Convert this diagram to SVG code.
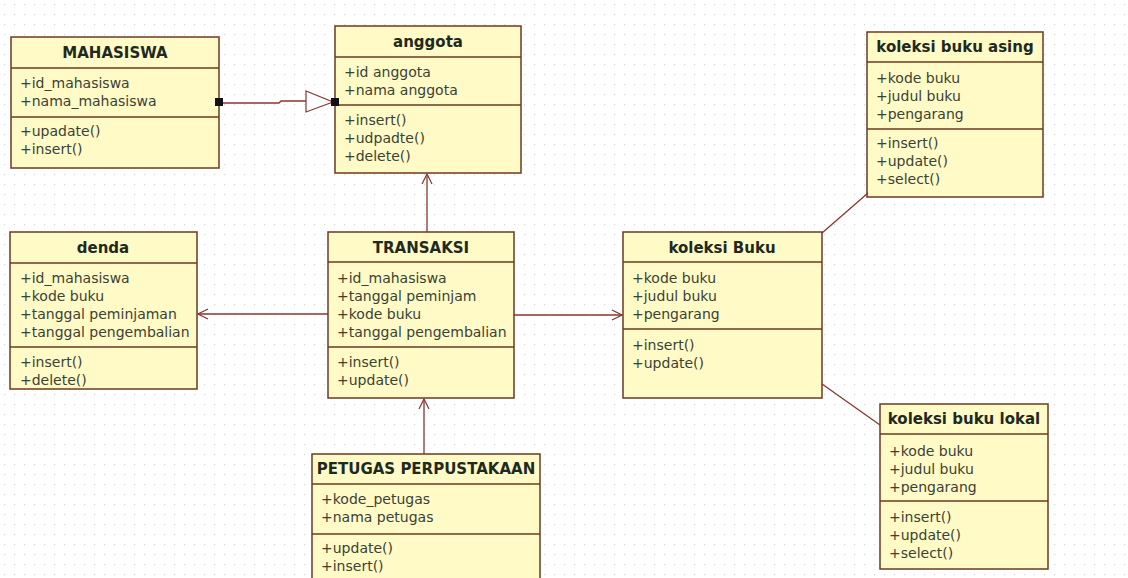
<svg xmlns="http://www.w3.org/2000/svg" width="1128" height="578" viewBox="0 0 1128 578">
<style>
.box{fill:#FFFAC6;stroke:#6b3a22;stroke-width:1.5}
.sep{stroke:#6b3a22;stroke-width:1.5}
.t{font-family:"DejaVu Sans",Verdana,sans-serif;font-size:15px;font-weight:bold;fill:#1e2a1e;text-anchor:middle}
.a{font-family:"DejaVu Sans",Verdana,sans-serif;font-size:14px;fill:#3a4236}
.c{stroke:#8a3530;stroke-width:1.3;fill:none}
</style>
<defs>
<pattern id="grid" width="10" height="10" patternUnits="userSpaceOnUse">
<rect x="4" y="4" width="1.2" height="1.2" fill="#d4d4dc"/>
</pattern>
<marker id="open" markerWidth="12" markerHeight="12" refX="11" refY="6" orient="auto" markerUnits="userSpaceOnUse">
<path d="M1,1 L11,6 L1,11" fill="none" stroke="#8a3530" stroke-width="1.2"/>
</marker>
</defs>
<rect width="1128" height="578" fill="#ffffff"/>
<rect width="1128" height="578" fill="url(#grid)"/>

<g id="mahasiswa">
<rect class="box" x="11" y="37" width="208" height="131"/>
<line class="sep" x1="11" y1="68" x2="219" y2="68"/>
<line class="sep" x1="11" y1="117" x2="219" y2="117"/>
<text class="t" x="115" y="58">MAHASISWA</text>
<text class="a" x="20" y="88">+id_mahasiswa</text>
<text class="a" x="20" y="106">+nama_mahasiswa</text>
<text class="a" x="20" y="136">+upadate()</text>
<text class="a" x="20" y="154">+insert()</text>
</g>

<g id="anggota">
<rect class="box" x="335" y="26" width="186" height="147"/>
<line class="sep" x1="335" y1="57" x2="521" y2="57"/>
<line class="sep" x1="335" y1="105" x2="521" y2="105"/>
<text class="t" x="428" y="47">anggota</text>
<text class="a" x="344" y="77">+id anggota</text>
<text class="a" x="344" y="95">+nama anggota</text>
<text class="a" x="344" y="125">+insert()</text>
<text class="a" x="344" y="143">+udpadte()</text>
<text class="a" x="344" y="161">+delete()</text>
</g>

<g id="koleksi-buku-asing">
<rect class="box" x="867" y="32" width="176" height="165"/>
<line class="sep" x1="867" y1="62" x2="1043" y2="62"/>
<line class="sep" x1="867" y1="129" x2="1043" y2="129"/>
<text class="t" x="955" y="52">koleksi buku asing</text>
<text class="a" x="876" y="83">+kode buku</text>
<text class="a" x="876" y="101">+judul buku</text>
<text class="a" x="876" y="119">+pengarang</text>
<text class="a" x="876" y="148">+insert()</text>
<text class="a" x="876" y="166">+update()</text>
<text class="a" x="876" y="184">+select()</text>
</g>

<g id="denda">
<rect class="box" x="10" y="232" width="187" height="157"/>
<line class="sep" x1="10" y1="263" x2="197" y2="263"/>
<line class="sep" x1="10" y1="347" x2="197" y2="347"/>
<text class="t" x="103" y="253">denda</text>
<text class="a" x="20" y="283">+id_mahasiswa</text>
<text class="a" x="20" y="301">+kode buku</text>
<text class="a" x="20" y="319">+tanggal peminjaman</text>
<text class="a" x="20" y="337">+tanggal pengembalian</text>
<text class="a" x="20" y="367">+insert()</text>
<text class="a" x="20" y="385">+delete()</text>
</g>

<g id="transaksi">
<rect class="box" x="328" y="232" width="186" height="166"/>
<line class="sep" x1="328" y1="262" x2="514" y2="262"/>
<line class="sep" x1="328" y1="347" x2="514" y2="347"/>
<text class="t" x="421" y="253">TRANSAKSI</text>
<text class="a" x="337" y="283">+id_mahasiswa</text>
<text class="a" x="337" y="301">+tanggal peminjam</text>
<text class="a" x="337" y="319">+kode buku</text>
<text class="a" x="337" y="337">+tanggal pengembalian</text>
<text class="a" x="337" y="367">+insert()</text>
<text class="a" x="337" y="385">+update()</text>
</g>

<g id="koleksi-buku">
<rect class="box" x="623" y="232" width="199" height="166"/>
<line class="sep" x1="623" y1="262" x2="822" y2="262"/>
<line class="sep" x1="623" y1="329" x2="822" y2="329"/>
<text class="t" x="722" y="253">koleksi Buku</text>
<text class="a" x="632" y="283">+kode buku</text>
<text class="a" x="632" y="301">+judul buku</text>
<text class="a" x="632" y="319">+pengarang</text>
<text class="a" x="632" y="350">+insert()</text>
<text class="a" x="632" y="368">+update()</text>
</g>

<g id="koleksi-buku-lokal">
<rect class="box" x="880" y="404" width="168" height="165"/>
<line class="sep" x1="880" y1="434" x2="1048" y2="434"/>
<line class="sep" x1="880" y1="501" x2="1048" y2="501"/>
<text class="t" x="964" y="424">koleksi buku lokal</text>
<text class="a" x="889" y="456">+kode buku</text>
<text class="a" x="889" y="474">+judul buku</text>
<text class="a" x="889" y="492">+pengarang</text>
<text class="a" x="889" y="522">+insert()</text>
<text class="a" x="889" y="540">+update()</text>
<text class="a" x="889" y="558">+select()</text>
</g>

<g id="petugas-perpustakaan">
<rect class="box" x="312" y="454" width="228" height="140"/>
<line class="sep" x1="312" y1="484" x2="540" y2="484"/>
<line class="sep" x1="312" y1="534" x2="540" y2="534"/>
<text class="t" x="426" y="474">PETUGAS PERPUSTAKAAN</text>
<text class="a" x="321" y="504">+kode_petugas</text>
<text class="a" x="321" y="522">+nama petugas</text>
<text class="a" x="321" y="553">+update()</text>
<text class="a" x="321" y="571">+insert()</text>
</g>

<g id="connectors">
<path class="c" d="M219,103 L279,103 L281,101 L306,101"/>
<polygon points="306,91 333,102 306,112" fill="#ffffff" stroke="#8a3530" stroke-width="1.2"/>
<rect x="215" y="98" width="8" height="8" fill="#111"/>
<rect x="331" y="98" width="8" height="8" fill="#111"/>
<line class="c" x1="427" y1="232" x2="427" y2="174" marker-end="url(#open)"/>
<line class="c" x1="328" y1="314" x2="198" y2="314" marker-end="url(#open)"/>
<line class="c" x1="514" y1="315" x2="622" y2="315" marker-end="url(#open)"/>
<line class="c" x1="424" y1="454" x2="424" y2="399" marker-end="url(#open)"/>
<line class="c" x1="822" y1="233" x2="868" y2="193"/>
<line class="c" x1="822" y1="384" x2="880" y2="425"/>
</g>
</svg>
